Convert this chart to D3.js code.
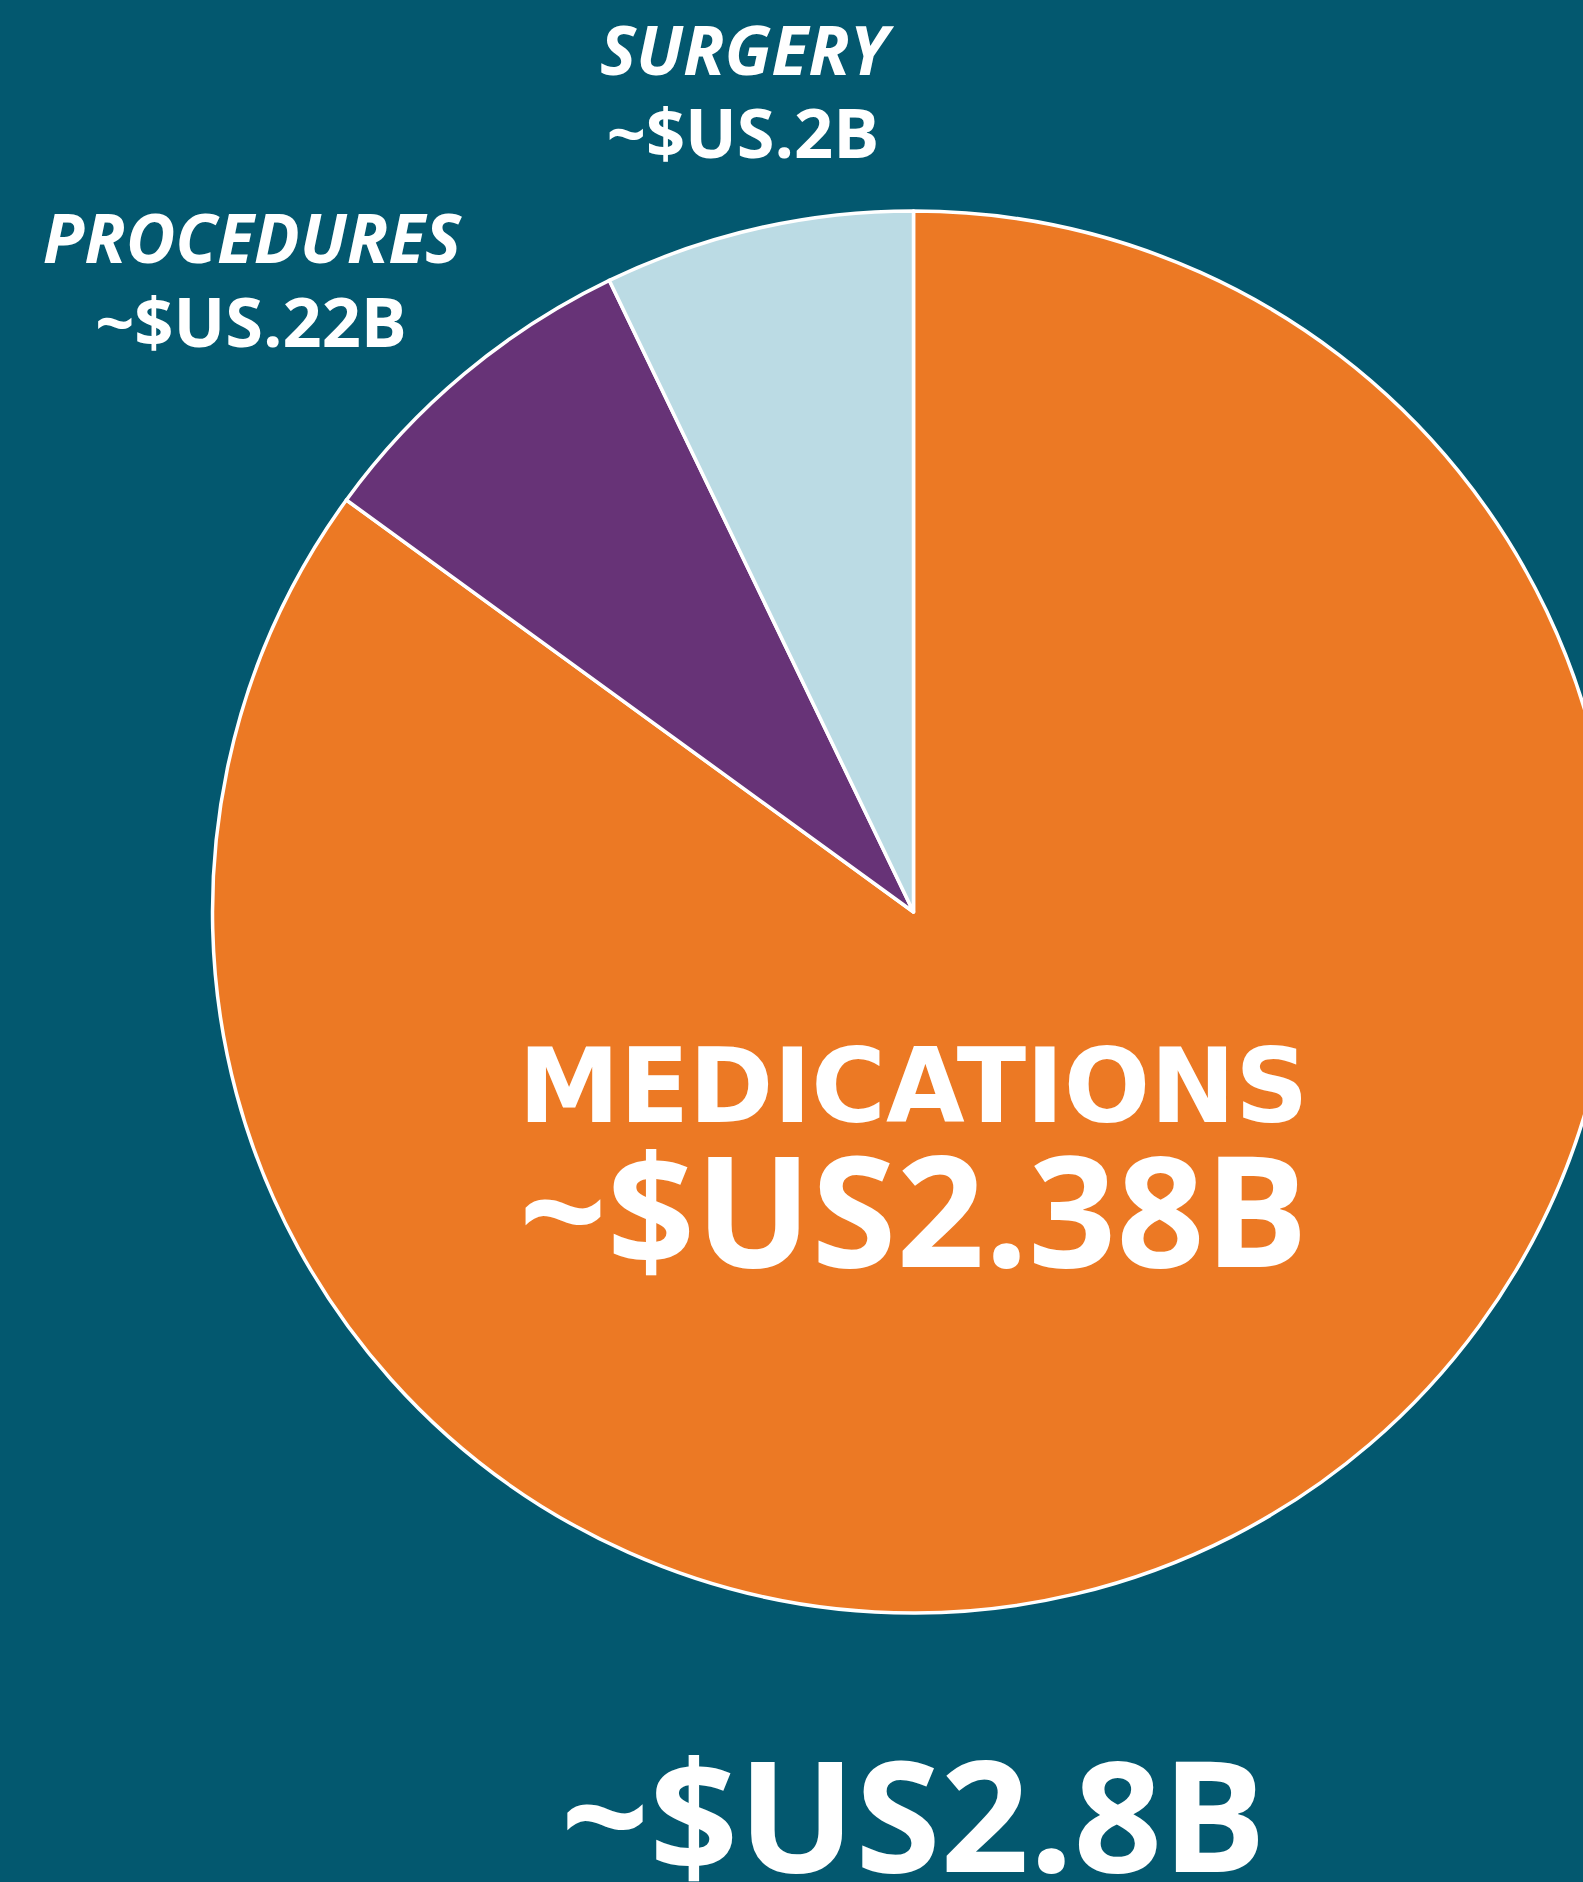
<!DOCTYPE html>
<html>
<head>
<meta charset="utf-8">
<script src="https://cdn.jsdelivr.net/npm/d3@7"></script>
<style>
  html, body { margin: 0; padding: 0; background: #03586f; overflow: hidden; }
  svg { display: block; }
</style>
</head>
<body>
<svg width="1583" height="1882"></svg>
<script>
// spending breakdown, in billions of US$
var categories = ["MEDICATIONS", "PROCEDURES", "SURGERY"];
var values = [2.38, 0.22, 0.2];
var valueLabels = ["~$US2.38B", "~$US.22B", "~$US.2B"];
var totalLabel = "~$US2.8B";
var colors = ["#ec7924", "#673377", "#bbdbe4"];

var svg = d3.select("svg"),
    width = +svg.attr("width"),
    height = +svg.attr("height"),
    cx = 913.5, cy = 912, radius = 701;

svg.append("rect")
    .attr("width", width)
    .attr("height", height)
    .attr("fill", "#03586f");

var data = categories.map(function(c, i) {
  return {name: c, value: values[i], label: valueLabels[i], color: colors[i]};
});

var pie = d3.pie().sort(null).value(function(d) { return d.value; });
var arc = d3.arc().innerRadius(0).outerRadius(radius);

var g = svg.append("g")
    .attr("transform", "translate(" + cx + "," + cy + ")");

g.selectAll("path")
  .data(pie(data))
  .enter().append("path")
    .attr("d", arc)
    .attr("fill", function(d) { return d.data.color; })
    .attr("stroke", "#fff")
    .attr("stroke-width", 3.5)
    .attr("stroke-linejoin", "round");

// big label inside the medications slice
svg.append("text")
    .attr("x", cx)
    .attr("y", 1122)
    .attr("text-anchor", "middle")
    .attr("fill", "#fff")
    .style("font-family", "'DejaVu Sans', sans-serif")
    .style("font-weight", 700)
    .style("font-size", "103px")
    .attr("textLength", 790)
    .attr("lengthAdjust", "spacingAndGlyphs")
    .text(data[0].name);

svg.append("text")
    .attr("x", cx)
    .attr("y", 1267)
    .attr("text-anchor", "middle")
    .attr("fill", "#fff")
    .style("font-family", "'Open Sans', sans-serif")
    .style("font-weight", 700)
    .style("font-size", "154px")
    .text(data[0].label);

// small labels outside the pie
var outside = [
  {i: 1, x: 252, y1: 263, y2: 347},
  {i: 2, x: 744, y1: 75, y2: 158}
];

outside.forEach(function(o) {
  var d = data[o.i];
  svg.append("text")
      .attr("x", o.x)
      .attr("y", o.y1)
      .attr("text-anchor", "middle")
      .attr("fill", "#fff")
      .style("font-family", "'Open Sans', sans-serif")
      .style("font-weight", 700)
      .style("font-style", "italic")
      .style("font-size", "68px")
      .text(d.name);
  svg.append("text")
      .attr("x", o.x - 1)
      .attr("y", o.y2)
      .attr("text-anchor", "middle")
      .attr("fill", "#fff")
      .style("font-family", "'Open Sans', sans-serif")
      .style("font-weight", 700)
      .style("font-size", "68.5px")
      .text(d.label);
});

// total underneath
svg.append("text")
    .attr("x", cx)
    .attr("y", 1872)
    .attr("text-anchor", "middle")
    .attr("fill", "#fff")
    .style("font-family", "'Open Sans', sans-serif")
    .style("font-weight", 700)
    .style("font-size", "155px")
    .text(totalLabel);
</script>
</body>
</html>
